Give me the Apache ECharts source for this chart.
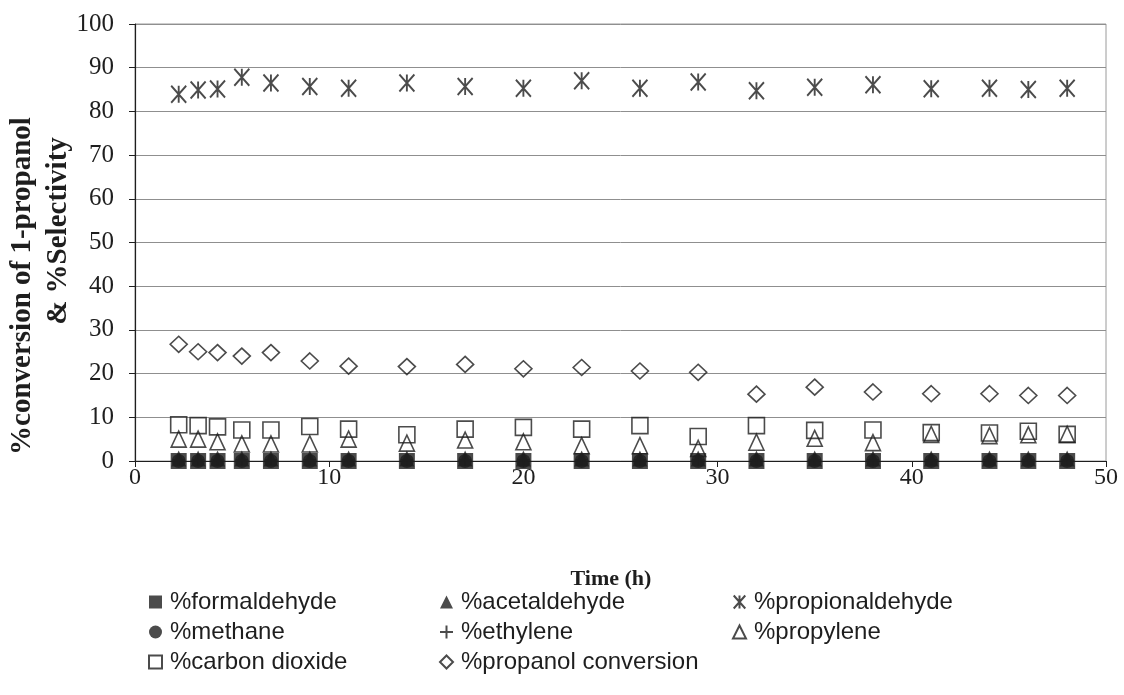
<!DOCTYPE html>
<html>
<head>
<meta charset="utf-8">
<title>1-propanol conversion and product selectivity</title>
<script src="https://cdn.jsdelivr.net/npm/echarts@6/dist/echarts.min.js"></script>
<style>
  html, body { margin: 0; padding: 0; background: #fff; }
  #chart { width: 1124px; height: 695px; }
</style>
</head>
<body>
<div id="chart"></div>
<script>
// Time on stream (h)
const timeH = [2.25, 3.25, 4.25, 5.5, 7, 9, 11, 14, 17, 20, 23, 26, 29, 32, 35, 38, 41, 44, 46, 48];

// Selectivities (%) and conversion (%)
const formaldehyde    = [0, 0, 0, 0, 0, 0, 0, 0, 0, 0, 0, 0, 0, 0, 0, 0, 0, 0, 0, 0];
const acetaldehyde    = [0.6, 0.6, 0.6, 0.6, 0.6, 0.6, 0.6, 0.6, 0.6, 0.6, 0.6, 0.6, 0.6, 0.6, 0.6, 0.6, 0.6, 0.6, 0.6, 0.6];
const propionaldehyde = [83.9, 84.9, 85.1, 87.8, 86.5, 85.7, 85.3, 86.5, 85.7, 85.3, 87.0, 85.3, 86.7, 84.7, 85.5, 86.1, 85.2, 85.3, 85.0, 85.3];
const methane         = [0, 0, 0, 0, 0, 0, 0, 0, 0, 0, 0, 0, 0, 0, 0, 0, 0, 0, 0, 0];
const ethylene        = [0.3, 0.3, 0.3, 0.3, 0.3, 0.3, 0.3, 0.3, 0.3, 0.3, 0.3, 0.3, 0.3, 0.3, 0.3, 0.3, 0.3, 0.3, 0.3, 0.3];
const propylene       = [5.0, 5.0, 4.4, 3.9, 3.9, 3.9, 5.0, 4.1, 4.8, 4.4, 3.5, 3.5, 2.9, 4.3, 5.2, 4.2, 6.1, 5.8, 6.0, 6.1];
const carbonDioxide   = [8.3, 8.1, 7.8, 7.1, 7.1, 7.9, 7.3, 6.0, 7.3, 7.7, 7.3, 8.1, 5.6, 8.1, 7.0, 7.1, 6.5, 6.4, 6.8, 6.1];
const propanolConv    = [26.7, 25.0, 24.8, 24.0, 24.8, 22.9, 21.7, 21.6, 22.1, 21.1, 21.4, 20.6, 20.3, 15.3, 16.9, 15.8, 15.4, 15.4, 15.0, 15.0];

const seriesNames = ['%formaldehyde', '%acetaldehyde', '%propionaldehyde', '%methane', '%ethylene',
                     '%propylene', '%carbon dioxide', '%propanol conversion'];

const INK = '#1e1e1e';
const SERIF = '"Liberation Serif", "Times New Roman", serif';
const SANS = '"Liberation Sans", Arial, sans-serif';

const ASTERISK = 'path://M0,0L16,18M16,0L0,18M8,0L8,18';
const PLUS = 'path://M5,0L5,10M0,5L10,5';

function pairs(ys) { return timeH.map((t, i) => [t, ys[i]]); }

const filled = { color: INK, borderColor: INK, borderWidth: 0 };
const hollow = { color: 'rgba(255,255,255,0)', borderColor: INK, borderWidth: 1.6 };

const series = [
  { name: seriesNames[0], data: pairs(formaldehyde), symbol: 'rect', symbolSize: 16, itemStyle: filled },
  { name: seriesNames[1], data: pairs(acetaldehyde), symbol: 'triangle', symbolSize: [15, 16], itemStyle: filled },
  { name: seriesNames[2], data: pairs(propionaldehyde), symbol: ASTERISK, symbolSize: [15, 17], itemStyle: { color: 'rgba(0,0,0,0)', borderColor: INK, borderWidth: 2 } },
  { name: seriesNames[3], data: pairs(methane), symbol: 'circle', symbolSize: 14, itemStyle: filled },
  { name: seriesNames[4], data: pairs(ethylene), symbol: PLUS, symbolSize: 12, itemStyle: { color: 'rgba(0,0,0,0)', borderColor: INK, borderWidth: 1.6 } },
  { name: seriesNames[5], data: pairs(propylene), symbol: 'triangle', symbolSize: [15, 16], itemStyle: hollow },
  { name: seriesNames[6], data: pairs(carbonDioxide), symbol: 'rect', symbolSize: 16, itemStyle: hollow },
  { name: seriesNames[7], data: pairs(propanolConv), symbol: 'diamond', symbolSize: [17, 16], itemStyle: hollow }
].map(s => Object.assign({ type: 'scatter', animation: false, emphasis: { disabled: true } }, s));

// Legend laid out as three columns of up to three entries
function legendColumn(names, left) {
  return {
    data: names,
    orient: 'vertical',
    left: left,
    top: 585,
    itemWidth: 13,
    itemHeight: 13,
    itemGap: 6,
    selectedMode: false,
    textStyle: { fontFamily: SANS, fontSize: 24, color: INK, lineHeight: 24, padding: [0, 0, 0, 3] }
  };
}

const chart = echarts.init(document.getElementById('chart'), null, { renderer: 'canvas' });
chart.setOption({
  backgroundColor: '#fff',
  animation: false,
  grid: { left: 135, right: 18, top: 24, bottom: 234, show: true, borderColor: '#9a9a9a', borderWidth: 1 },
  xAxis: {
    type: 'value', min: 0, max: 50, interval: 10,
    axisLine: { lineStyle: { color: INK, width: 1.2 } },
    axisTick: { show: true, length: 6, lineStyle: { color: INK } },
    axisLabel: { fontFamily: SERIF, fontSize: 24, color: INK, margin: 5 },
    splitLine: { show: false }
  },
  yAxis: {
    type: 'value', min: 0, max: 100, interval: 10,
    axisLine: { show: true, lineStyle: { color: INK, width: 1.2 } },
    axisTick: { show: true, length: 6, lineStyle: { color: INK } },
    axisLabel: { fontFamily: SERIF, fontSize: 25, color: INK, margin: 21 },
    splitLine: { show: true, lineStyle: { color: '#8f8f8f', width: 1 } }
  },
  legend: [
    legendColumn([seriesNames[0], seriesNames[3], seriesNames[6]], 143),
    legendColumn([seriesNames[1], seriesNames[4], seriesNames[7]], 434),
    legendColumn([seriesNames[2], seriesNames[5]], 727)
  ],
  graphic: [
    { type: 'text', x: 611, y: 579,
      style: { text: 'Time (h)', fontFamily: SERIF, fontWeight: 'bold', fontSize: 22, fill: INK, align: 'center', verticalAlign: 'middle' } },
    { type: 'text', x: 23, y: 286, rotation: Math.PI / 2,
      style: { text: '%conversion of 1-propanol', fontFamily: SERIF, fontWeight: 'bold', fontSize: 29, fill: INK, align: 'center', verticalAlign: 'middle' } },
    { type: 'text', x: 59, y: 231, rotation: Math.PI / 2,
      style: { text: '& %Selectivity', fontFamily: SERIF, fontWeight: 'bold', fontSize: 29, fill: INK, align: 'center', verticalAlign: 'middle' } }
  ],
  series: series
});
</script>
</body>
</html>
